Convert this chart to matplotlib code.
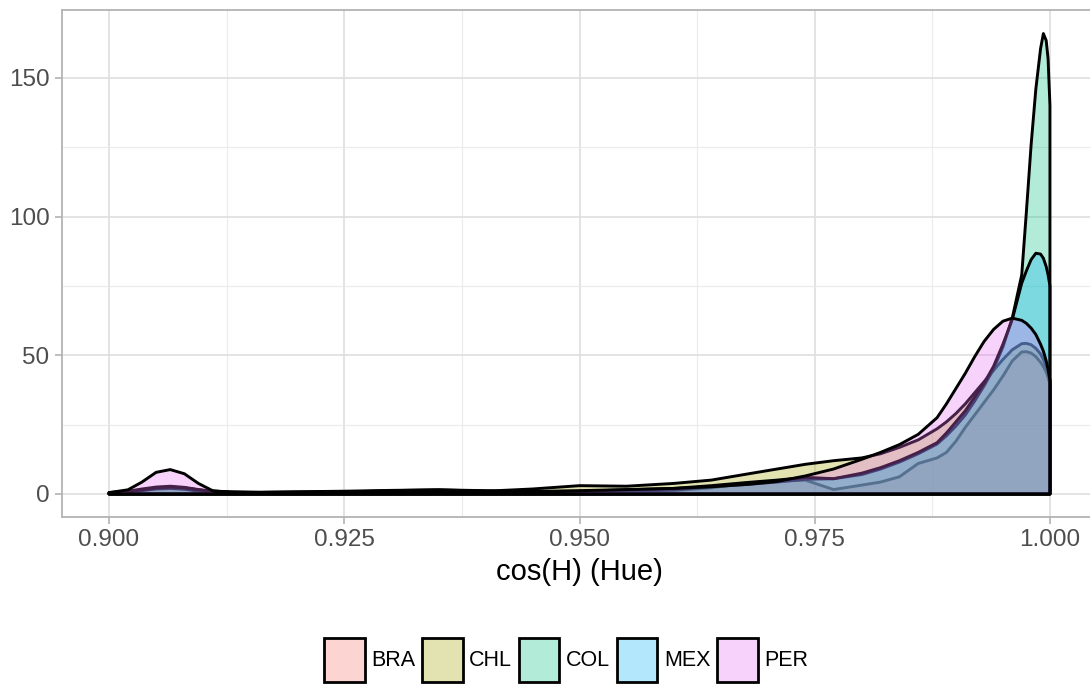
import matplotlib
matplotlib.use("Agg")
import matplotlib.pyplot as plt
from matplotlib.colors import to_rgba
from matplotlib.patches import Patch

plt.rcParams["font.family"] = ["Liberation Sans", "DejaVu Sans"]

# density estimates of cos(H), one curve per country
COS_H = [0.900, 0.902, 0.9035, 0.905, 0.9065, 0.908, 0.9095, 0.911, 0.913, 0.916,
         0.920, 0.925, 0.930, 0.935, 0.940, 0.945, 0.950, 0.955, 0.960, 0.964,
         0.968, 0.971, 0.974, 0.977, 0.980, 0.982, 0.984, 0.986, 0.988, 0.989,
         0.990, 0.991, 0.992, 0.993, 0.994, 0.995, 0.996, 0.997, 0.9975, 0.998,
         0.9985, 0.999, 0.9993, 0.9996, 0.9998, 1.000]

BRA = [0.3, 0.8, 1.5, 2.2, 2.5, 2.2, 1.4, 0.8, 0.5, 0.4,
       0.5, 0.7, 1.2, 1.5, 1.0, 0.6, 0.5, 0.7, 1.2, 2.2,
       4.0, 4.6, 5.0, 1.6, 3.2, 4.3, 6.2, 11.0, 13.0, 15.0,
       19.0, 24.0, 28.5, 33.0, 37.5, 42.5, 48.0, 51.2, 51.3, 50.8,
       49.5, 47.5, 46.0, 44.0, 42.0, 39.5]

CHL = [0.5, 1.0, 1.8, 2.5, 2.8, 2.4, 1.6, 1.0, 0.8, 0.6,
       0.7, 0.8, 0.8, 0.9, 1.0, 1.8, 3.0, 2.8, 3.8, 5.0,
       7.3, 9.0, 10.7, 12.0, 13.0, 14.5, 16.8, 19.5, 23.5, 26.0,
       29.0, 32.5, 36.5, 40.5, 44.5, 48.5, 52.0, 54.2, 54.3, 53.8,
       52.5, 50.5, 48.5, 46.0, 44.0, 41.0]

COL = [0.2, 0.6, 1.2, 1.8, 2.0, 1.7, 1.0, 0.5, 0.3, 0.3,
       0.4, 0.4, 0.5, 0.6, 0.8, 0.6, 0.5, 0.8, 1.5, 2.6,
       3.5, 4.3, 5.3, 5.5, 7.0, 9.0, 11.5, 14.5, 18.0, 21.0,
       24.5, 28.5, 33.5, 39.0, 45.0, 53.0, 63.5, 79.0, 102.0, 126.0,
       146.0, 160.5, 166.0, 163.5, 157.0, 140.0]

MEX = [0.4, 0.9, 1.5, 2.2, 2.5, 2.2, 1.5, 0.9, 0.6, 0.6,
       0.8, 1.0, 1.3, 1.5, 1.2, 0.8, 1.0, 1.5, 2.0, 3.0,
       4.2, 5.0, 6.0, 5.5, 7.5, 9.5, 12.0, 15.0, 18.5, 22.0,
       26.0, 30.0, 35.0, 40.0, 46.0, 54.0, 63.0, 76.0, 80.5, 84.5,
       86.8, 86.5, 85.0, 82.0, 79.0, 75.0]

PER = [0.5, 1.5, 4.3, 7.8, 8.8, 7.3, 3.8, 1.2, 0.6, 0.5,
       0.5, 0.6, 0.7, 0.8, 0.8, 0.9, 1.2, 1.6, 2.0, 2.6,
       3.5, 4.5, 6.5, 9.0, 12.5, 15.0, 17.8, 21.5, 27.5, 32.5,
       38.0, 43.5, 49.5, 55.0, 59.3, 62.3, 63.4, 62.6, 61.5, 59.8,
       57.5, 54.0, 51.5, 48.0, 45.0, 41.0]

COUNTRIES = ["BRA", "CHL", "COL", "MEX", "PER"]
DENSITIES = [BRA, CHL, COL, MEX, PER]
COLORS = ["#F8766D", "#A3A500", "#00BF7D", "#00B0F6", "#E76BF3"]

X_TICKS = [0.900, 0.925, 0.950, 0.975, 1.000]
X_TICK_LABELS = ["0.900", "0.925", "0.950", "0.975", "1.000"]
Y_TICKS = [0, 50, 100, 150]

fig = plt.figure(figsize=(10.9, 6.86), dpi=100)
ax = fig.add_axes([62 / 1090, 1 - 517 / 686, 1035 / 1090, 507 / 686])

for i, (name, dens, col) in enumerate(zip(COUNTRIES, DENSITIES, COLORS)):
    xs = COS_H + [COS_H[-1], COS_H[0]]
    ys = dens + [0, 0]
    ax.fill(xs, ys, facecolor=to_rgba(col, 0.3), edgecolor="black",
            linewidth=2.1, joinstyle="round", zorder=3 + i)

ax.set_xlim(0.895, 1.005)
ax.set_ylim(-8.3, 174.5)

ax.set_xticks(X_TICKS)
ax.set_xticklabels(X_TICK_LABELS)
ax.set_yticks(Y_TICKS)
ax.set_xticks([0.9125, 0.9375, 0.9625, 0.9875], minor=True)
ax.set_yticks([25, 75, 125], minor=True)

ax.set_axisbelow(True)
ax.grid(which="major", color="#DEDEDE", linewidth=1.2)
ax.grid(which="minor", color="#EBEBEB", linewidth=0.8)

for sp in ax.spines.values():
    sp.set_color("#B3B3B3")
    sp.set_linewidth(1.3)

ax.tick_params(which="major", length=5, width=1.2, color="#B3B3B3",
               labelcolor="#4D4D4D", labelsize=17.5, pad=4)
ax.tick_params(which="minor", length=0)

ax.set_xlabel("cos(H) (Hue)", fontsize=21, labelpad=5)

handles = [Patch(facecolor=to_rgba(c, 0.3), edgecolor="black", linewidth=2)
           for c in COLORS]
fig.legend(handles, COUNTRIES, loc="center",
           bbox_to_anchor=(566 / 1090, 1 - 660 / 686), ncol=5, frameon=False,
           fontsize=15.5, handlelength=1.9, handleheight=2.75,
           handletextpad=0.3, columnspacing=0.3, borderpad=0)

fig.savefig("out.png", dpi=100)
